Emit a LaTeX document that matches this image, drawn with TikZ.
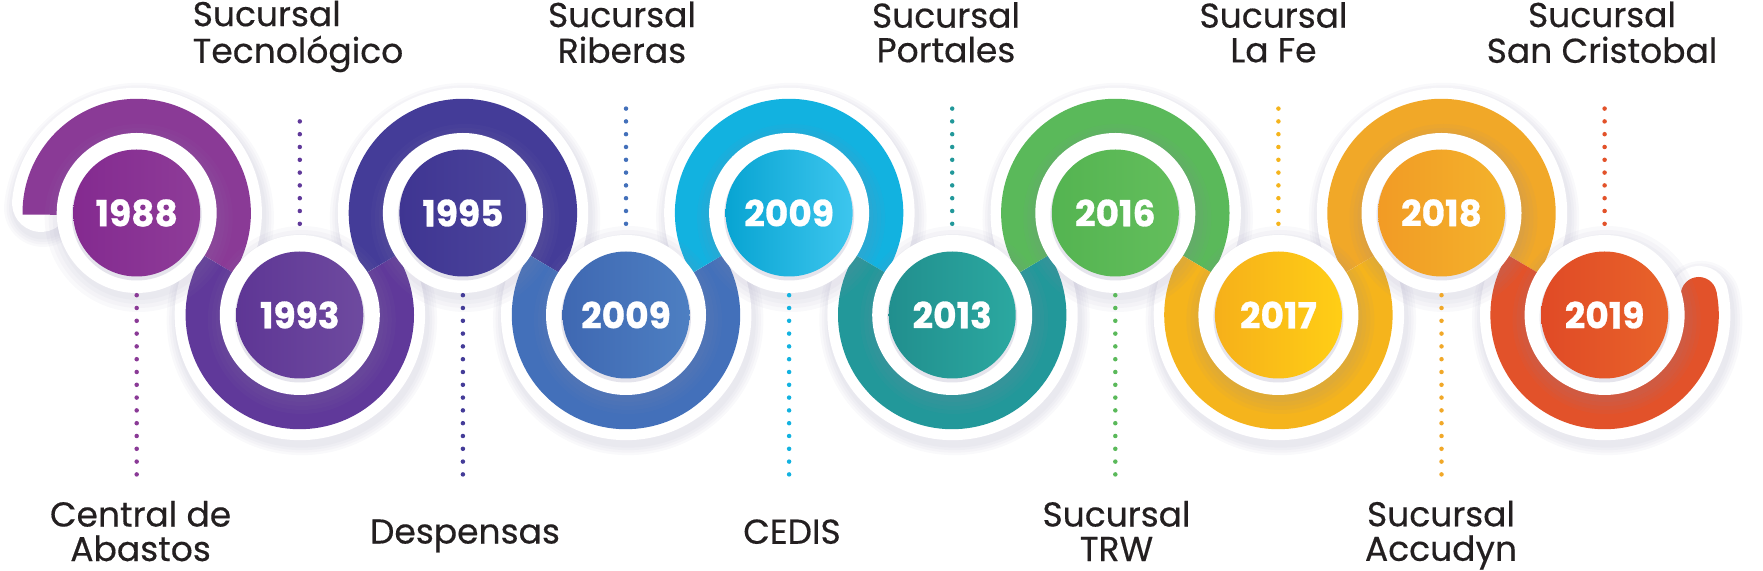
\documentclass[tikz,border=0pt]{standalone}
\usepackage{fontspec}
\setmainfont{Poppins}[UprightFeatures={FakeBold=0.4}, BoldFeatures={FakeBold=0.8}]
\usepackage{tikz}
\usepackage{xcolor}
\usetikzlibrary{positioning,calc}
% ring colours
\definecolor{r0}{HTML}{8A3A96}
\definecolor{r1}{HTML}{60399A}
\definecolor{r2}{HTML}{443C98}
\definecolor{r3}{HTML}{4370BA}
\definecolor{r4}{HTML}{12B2E0}
\definecolor{r5}{HTML}{22989A}
\definecolor{r6}{HTML}{5AB95A}
\definecolor{r7}{HTML}{F5B41C}
\definecolor{r8}{HTML}{F1A828}
\definecolor{r9}{HTML}{E2522A}
% disc colours (left / right)
\definecolor{d0l}{HTML}{842A90}\definecolor{d0r}{HTML}{8E3C98}
\definecolor{d1l}{HTML}{5E3695}\definecolor{d1r}{HTML}{6E4A9F}
\definecolor{d2l}{HTML}{3F3592}\definecolor{d2r}{HTML}{4B459C}
\definecolor{d3l}{HTML}{3F68B2}\definecolor{d3r}{HTML}{4D7FC2}
\definecolor{d4l}{HTML}{08A4D2}\definecolor{d4r}{HTML}{3DC6EE}
\definecolor{d5l}{HTML}{218F8E}\definecolor{d5r}{HTML}{2BA8A0}
\definecolor{d6l}{HTML}{54B451}\definecolor{d6r}{HTML}{63BE5C}
\definecolor{d7l}{HTML}{F6B01A}\definecolor{d7r}{HTML}{FFCE15}
\definecolor{d8l}{HTML}{F29B25}\definecolor{d8r}{HTML}{F3B22B}
\definecolor{d9l}{HTML}{E04A26}\definecolor{d9r}{HTML}{E8632A}
\definecolor{lbltext}{HTML}{231F20}
\definecolor{shadowc}{HTML}{8C88AC}
% line strut for the labels
\newcommand{\lstrut}{\rule[-8.5pt]{0pt}{34.5pt}}
% the snake of rings
\newcommand{\snakepath}{(136.7,357) ++(174:96.2)
  arc[start angle=174,end angle=-32,radius=96.2]
  arc[start angle=148,end angle=392,radius=96.2]
  arc[start angle=212,end angle=-32,radius=96.2]
  arc[start angle=148,end angle=392,radius=96.2]
  arc[start angle=212,end angle=-32,radius=96.2]
  arc[start angle=148,end angle=392,radius=96.2]
  arc[start angle=212,end angle=-32,radius=96.2]
  arc[start angle=148,end angle=392,radius=96.2]
  arc[start angle=212,end angle=-32,radius=96.2]
  arc[start angle=148,end angle=372,radius=96.2]}

\begin{document}
\begin{tikzpicture}[x=1pt, y=1pt,
    ring/.style={line width=36pt},
    halo/.style={line width=58pt, white, line cap=round},
    whitedisc/.style={circle, fill=white, minimum size=160pt, inner sep=0pt},
    yeardisc/.style={circle, minimum size=127pt, inner sep=0pt, text=white,
      font=\fontsize{36}{36}\selectfont\bfseries},
    lbl/.style={align=center, inner sep=0pt, minimum height=69pt, text=lbltext,
      font=\fontsize{34.5}{34.5}\selectfont},
    dotline/.style={line width=4.5pt, line cap=round, dash pattern=on 0pt off 12.8pt}]
  \useasboundingbox (0,0) rectangle (1763,570);

  % soft shadow and white border of the rings
  \foreach \k in {1,...,4}
    \draw[shadowc, opacity=0.05, line width={58pt+5pt*\k}, line cap=round, shift={(2,-5)}] \snakepath;
  \draw[halo] \snakepath;

  % coloured rings
  \foreach \i/\sa/\ea/\rc [evaluate=\i as \yy using {mod(\i,2)==0 ? 357 : 255}] in
      {0/181/-32/r0, 1/148/392/r1, 2/212/-32/r2, 3/148/392/r3, 4/212/-32/r4,
       5/148/392/r5, 6/212/-32/r6, 7/148/392/r7, 8/212/-32/r8, 9/148/372/r9}
    \draw[ring, \rc] ({136.7+163.1*\i},\yy) ++(\sa:96.2) arc[start angle=\sa, end angle=\ea, radius=96.2];
  \fill[r9] (1604.6,255) ++(372:96.2) circle[radius=18];

  % year discs
  \foreach \i/\yr [evaluate=\i as \yy using {mod(\i,2)==0 ? 357 : 255},
                   evaluate=\i as \xx using {136.7+163.1*\i}] in
      {0/1988, 1/1993, 2/1995, 3/2009, 4/2009, 5/2013, 6/2016, 7/2017, 8/2018, 9/2019} {
    \foreach \k in {1,...,4}
      \fill[shadowc, opacity=0.05] (\xx+2,\yy-5) circle[radius=78+4*\k];
    \node[whitedisc] (w\i) at (\xx,\yy) {};
    \fill[shadowc, opacity=0.22] (\xx,\yy-2.5) circle[radius=65];
    \node[yeardisc, left color=d\i l, right color=d\i r] (y\i) at (\xx,\yy) {\yr};
  }

  % labels
  \node[lbl] (l0) at (140.6,35) {\lstrut Central de\\\lstrut Abastos};
  \node[lbl, align=left] (l1) at (298,533.8) {\lstrut Sucursal\\\lstrut Tecnológico};
  \node[lbl] (l2) at (465,35) {\lstrut Despensas};
  \node[lbl] (l3) at (622,533.8) {\lstrut Sucursal\\\lstrut Riberas};
  \node[lbl] (l4) at (792,35) {\lstrut CEDIS};
  \node[lbl] (l5) at (946,533.8) {\lstrut Sucursal\\\lstrut Portales};
  \node[lbl] (l6) at (1116.5,35) {\lstrut Sucursal\\\lstrut TRW};
  \node[lbl] (l7) at (1273.5,533.8) {\lstrut Sucursal\\\lstrut La Fe};
  \node[lbl] (l8) at (1441,35) {\lstrut Sucursal\\\lstrut Accudyn};
  \node[lbl] (l9) at (1602,533.8) {\lstrut Sucursal\\\lstrut San Cristobal};

  % dotted leaders
  \foreach \i in {0,2,4,6,8}
    \draw[dotline, r\i, shorten <=2pt, shorten >=16pt] (w\i.south) -- (w\i.south |- l\i.north);
  \foreach \i in {1,3,5,7,9}
    \draw[dotline, r\i, shorten <=11pt, shorten >=37pt] (w\i.north) -- (w\i.north |- l\i.south);
\end{tikzpicture}
\end{document}
